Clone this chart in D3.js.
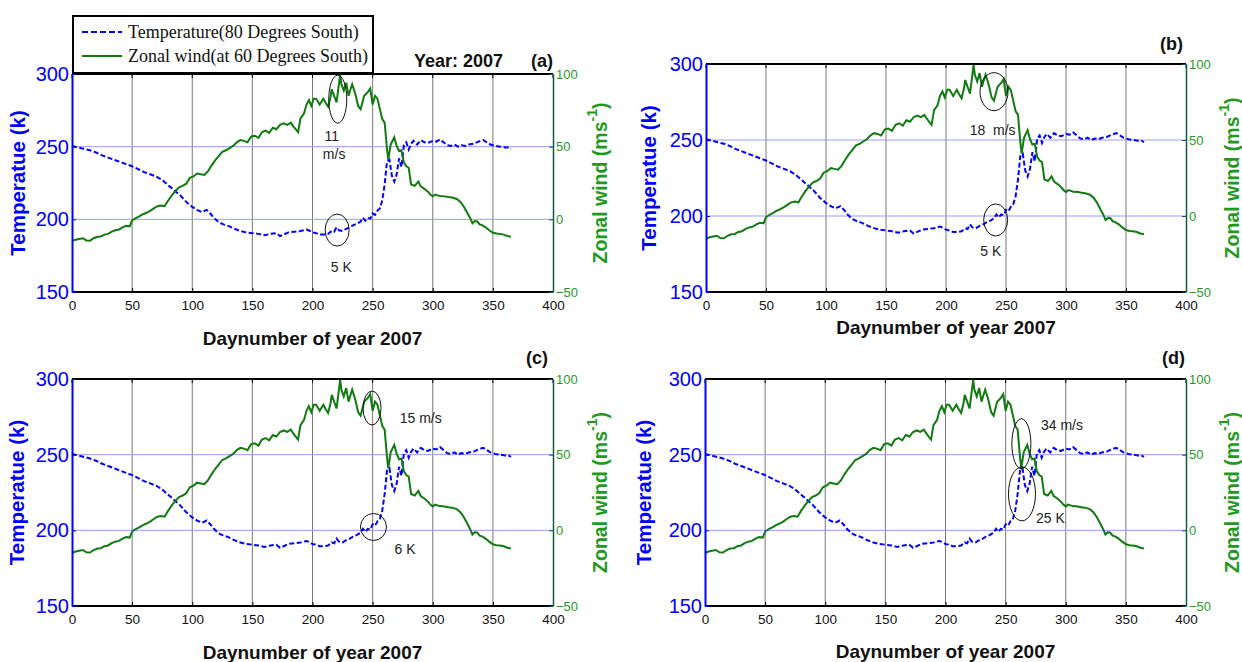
<!DOCTYPE html>
<html>
<head>
<meta charset="utf-8">
<script src="https://cdn.jsdelivr.net/npm/d3@7"></script>
<style>
  html, body { margin: 0; padding: 0; background: #ffffff; }
  svg { display: block; }
</style>
</head>
<body>
<svg id="fig" width="1242" height="662"></svg>
<script>
// Daily temperature at 80°S (K), sampled through 2007
const tempDay = [0,5,10,15,20,25,30,35,40,45,50,55,60,65,70,75,80,85,90,95,100,104,108,112,115,118,122,126,130,135,140,145,150,155,160,165,170,173,176,180,185,190,195,198,200,203,206,210,213,216,218,220,222,225,228,231,234,237,240,242,244,246,248,250,252,254,256,258,260,262,264,266,268,270,272,274,276,278,280,282,284,287,290,293,296,300,303,306,309,312,315,318,321,324,327,330,334,338,342,345,348,352,356,360,363,365];
const tempK   = [250.5,249.5,248.5,247.5,246,244,242.5,241,239.5,238,236.5,234.5,232.5,231,229.5,227,223.5,220,216.5,212,208.5,206.5,205,206.5,204,201,198,196.5,195.5,193.5,192,191,190.5,190,189,190,190.5,188.5,189.5,191,191.5,192,193,192,191,190.5,189.5,189.5,190,192,191.5,194.5,192.5,192,193.5,194.5,196,197,198.5,201,199,201,200.5,204,203,206,207.5,213,224,240,241,230,226,231,242,236,251,253,248,252,254,251.5,254.5,253,252.5,254,253.5,255,253,251,250.5,251.5,250,251,250.5,251.5,252,253.5,254.5,253,251.5,250.5,250,249.5,249.5,248.5];

// Zonal wind at 60°S (m/s)
const windDay = [0,3,6,9,12,15,18,21,24,27,30,33,36,39,42,45,48,50,53,56,59,62,65,68,71,74,77,80,83,86,89,92,95,98,101,104,107,110,113,116,119,122,125,128,131,134,137,140,143,146,149,152,155,158,161,164,167,170,173,176,179,182,184,186,188,190,193,195,197,199,201,203,206,209,211,213,215,216,218,220,223,224,226,228,230,231,233,235,236,238,240,242,243,246,248,250,252,254,256,258,260,262,263,265,268,270,272,274,276,278,280,282,285,288,290,293,296,298,300,302,304,306,310,313,316,320,323,326,329,331,333,335,337,339,341,344,347,350,353,356,359,362,365];
const windMs  = [-15,-14,-13.5,-13,-14.5,-14.7,-13,-12,-11.8,-10.5,-10,-8.5,-7.5,-7,-5.5,-4.5,-4.8,-0.8,0.8,2,3.5,4.5,5.8,7.5,9,9.5,9,13,16.5,19.5,22,23,24.5,28.5,29.5,31.5,31,30.5,33,37,40.5,43.5,46.5,47.5,49,50.5,53,54.5,54,53,57,57.5,56,60,61,59.5,63,62,65,66,65,66.5,64,62,60,69.5,73,79,82,78,83,83,79,83,80,77.5,84,89.5,85,80.5,99.5,93,88.5,94,85,88,93,88,85,78,75.8,82,85,87.5,90,79,85,83,76,69,66.5,48,41,51.5,56.5,50.5,47,47.5,39,36.5,35.5,24,23,26,22.7,21,19,17,15.8,17,16.5,16,15.8,15.3,15,14,12,8.5,4,1,-2.7,-1.2,-1.5,-3.5,-4,-5.5,-7.5,-9.2,-9.8,-10,-10.5,-11.5,-12];

const dayTicks  = [0,50,100,150,200,250,300,350,400];
const tempTicks = [150,200,250,300];
const windTicks = [-50,0,50,100];
const tempGrid  = [200,250];
const dayGrid   = [50,100,150,200,250,300,350];

const legendLabels = ["Temperature(80 Degrees South)", "Zonal wind(at 60 Degrees South)"];
const xTitle = "Daynumber of year 2007";
const leftTitle = "Temperatue (k)";
const yearTitle = "Year: 2007";

// Panel layout and circled features (positions in day / temperature-axis units)
const panels = [
  { box:[72,553,74,292], tag:"(a)", tagX:553, tagY:67, year:true, xtY:345, ltX:17, rtX:600,
    rings:[{d:221,t:282.7,rx:9,ry:24},{d:220.5,t:192.6,rx:12,ry:16}],
    notes:[{d:216,t:253.9,s:"11"},{d:218,t:241.5,s:"m/s"},{d:224,t:163.7,s:"5 K"}] },
  { box:[706,1186,64,292], tag:"(b)", tagX:1183, tagY:50, xtY:334, ltX:648, rtX:1232,
    rings:[{d:240,t:281.8,rx:14,ry:19},{d:241.4,t:197.4,rx:12,ry:16}],
    notes:[{d:238.9,t:253.3,s:"18  m/s"},{d:237.3,t:173.7,s:"5 K"}] },
  { box:[72,553,379,606], tag:"(c)", tagX:548, tagY:364, xtY:659, ltX:16, rtX:600,
    rings:[{d:249.5,t:280.8,rx:9,ry:17},{d:250.7,t:202.2,rx:13,ry:13.5}],
    notes:[{d:290,t:270.9,s:"15 m/s"},{d:277,t:184.3,s:"6 K"}] },
  { box:[705,1186,379,606], tag:"(d)", tagX:1185, tagY:364, xtY:658, ltX:643, rtX:1232,
    rings:[{d:263.1,t:257.2,rx:9.5,ry:25},{d:263.6,t:224.1,rx:13.5,ry:27}],
    notes:[{d:296.9,t:266.3,s:"34 m/s"},{d:287.2,t:204.6,s:"25 K"}] }
];

const BLUE = "#0000ff", GREEN = "#117a11", GREEN_TXT = "#1f9a1f", RAXIS = "#0d5a4a";
const SANS = "Liberation Sans, Arial, sans-serif";
const SERIF = "Liberation Serif, Times New Roman, serif";

const svg = d3.select("#fig");
svg.append("rect").attr("width",1242).attr("height",662).attr("fill","#fff");

const tempPts = tempDay.map((d,i)=>[d,tempK[i]]);
const windPts = windDay.map((d,i)=>[d,windMs[i]]);

function drawPanel(p) {
  const [x0,x1,y0,y1] = p.box;
  const x = d3.scaleLinear().domain([0,400]).range([x0,x1]);
  const yT = d3.scaleLinear().domain([150,300]).range([y1,y0]);
  const yW = d3.scaleLinear().domain([-50,100]).range([y1,y0]);
  const g = svg.append("g");

  // grid
  g.selectAll(null).data(dayGrid).join("line")
    .attr("x1",d=>x(d)).attr("x2",d=>x(d)).attr("y1",y0).attr("y2",y1)
    .attr("stroke","#555").attr("stroke-width",0.8);
  g.selectAll(null).data(tempGrid).join("line")
    .attr("x1",x0).attr("x2",x1).attr("y1",d=>yT(d)).attr("y2",d=>yT(d))
    .attr("stroke","#9a9aff").attr("stroke-width",1);

  // series
  g.append("path").datum(tempPts)
    .attr("d", d3.line().x(d=>x(d[0])).y(d=>yT(d[1])))
    .attr("fill","none").attr("stroke",BLUE).attr("stroke-width",2)
    .attr("stroke-dasharray","5,2.5");
  g.append("path").datum(windPts)
    .attr("d", d3.line().x(d=>x(d[0])).y(d=>yW(d[1])))
    .attr("fill","none").attr("stroke",GREEN).attr("stroke-width",2);

  // frame
  g.append("line").attr("x1",x0).attr("x2",x1).attr("y1",y0).attr("y2",y0).attr("stroke","#000").attr("stroke-width",2);
  g.append("line").attr("x1",x0).attr("x2",x1).attr("y1",y1).attr("y2",y1).attr("stroke","#000").attr("stroke-width",2);

  // bottom axis
  const xb = g.append("g").attr("transform",`translate(0,${y1})`)
    .call(d3.axisBottom(x).tickValues(dayTicks).tickSizeInner(-4).tickSizeOuter(0).tickPadding(8));
  xb.select(".domain").remove();
  xb.selectAll("line").attr("stroke","#000");
  xb.selectAll("text").attr("font-family",SANS).attr("font-size",13.5).attr("fill","#111");
  // top ticks
  g.selectAll(null).data(dayTicks).join("line")
    .attr("x1",d=>x(d)).attr("x2",d=>x(d)).attr("y1",y0).attr("y2",y0+4).attr("stroke","#000");

  // left axis
  const yl = g.append("g").attr("transform",`translate(${x0},0)`)
    .call(d3.axisLeft(yT).tickValues(tempTicks).tickSizeInner(-4).tickSizeOuter(0).tickPadding(3));
  yl.select(".domain").attr("stroke",BLUE).attr("stroke-width",2);
  yl.selectAll("line").attr("stroke",BLUE);
  yl.selectAll("text").attr("font-family",SANS).attr("font-size",20).attr("fill",BLUE);

  // right axis
  const yr = g.append("g").attr("transform",`translate(${x1},0)`)
    .call(d3.axisRight(yW).tickValues(windTicks).tickSizeInner(-4).tickSizeOuter(0).tickPadding(3));
  yr.select(".domain").attr("stroke",RAXIS).attr("stroke-width",1.5);
  yr.selectAll("line").attr("stroke",RAXIS);
  yr.selectAll("text").attr("font-family",SANS).attr("font-size",13).attr("fill",GREEN_TXT);

  // titles
  g.append("text").attr("x",(x0+x1)/2).attr("y",p.xtY).attr("text-anchor","middle")
    .attr("font-family",SANS).attr("font-weight","bold").attr("font-size",19).attr("fill","#111")
    .text(xTitle);
  const cy = (y0+y1)/2;
  g.append("text").attr("transform",`translate(${p.ltX},${cy}) rotate(-90)`)
    .attr("text-anchor","middle").attr("dominant-baseline","central")
    .attr("font-family",SANS).attr("font-weight","bold").attr("font-size",20.5).attr("fill",BLUE)
    .text(leftTitle);
  const rt = g.append("text").attr("transform",`translate(${p.rtX},${cy}) rotate(-90)`)
    .attr("text-anchor","middle").attr("dominant-baseline","central")
    .attr("font-family",SANS).attr("font-weight","bold").attr("font-size",19.5).attr("fill",GREEN_TXT);
  rt.append("tspan").text("Zonal wind (ms");
  rt.append("tspan").attr("font-size",14).attr("dy",-8).text("-1");
  rt.append("tspan").attr("dy",8).text(")");

  g.append("text").attr("x",p.tagX).attr("y",p.tagY).attr("text-anchor","end")
    .attr("font-family",SANS).attr("font-weight","bold").attr("font-size",18).attr("fill","#111")
    .text(p.tag);
  if (p.year) {
    g.append("text").attr("x",p.tagX - 50).attr("y",p.tagY).attr("text-anchor","end")
      .attr("font-family",SANS).attr("font-weight","bold").attr("font-size",18).attr("fill","#111")
      .text(yearTitle);
  }

  // circled features and their labels
  g.selectAll(null).data(p.rings).join("ellipse")
    .attr("cx",d=>x(d.d)).attr("cy",d=>yT(d.t)).attr("rx",d=>d.rx).attr("ry",d=>d.ry)
    .attr("fill","none").attr("stroke","#111").attr("stroke-width",1);
  g.selectAll(null).data(p.notes).join("text")
    .attr("x",d=>x(d.d)).attr("y",d=>yT(d.t)).attr("text-anchor","middle")
    .attr("font-family",SANS).attr("font-size",14).attr("fill","#222")
    .style("white-space","pre").text(d=>d.s);
}

panels.forEach(drawPanel);

// legend
const lg = svg.append("g");
lg.append("rect").attr("x",73).attr("y",16).attr("width",300).attr("height",57)
  .attr("fill","#fff").attr("stroke","#000").attr("stroke-width",2);
lg.append("line").attr("x1",82).attr("x2",122).attr("y1",32).attr("y2",32)
  .attr("stroke",BLUE).attr("stroke-width",2).attr("stroke-dasharray","6,3");
lg.append("line").attr("x1",82).attr("x2",122).attr("y1",56).attr("y2",56)
  .attr("stroke",GREEN).attr("stroke-width",2);
lg.selectAll(null).data(legendLabels).join("text")
  .attr("x",128).attr("y",(d,i)=>38+i*24)
  .attr("font-family",SERIF).attr("font-size",18).attr("fill","#111")
  .text(d=>d);
</script>
</body>
</html>
